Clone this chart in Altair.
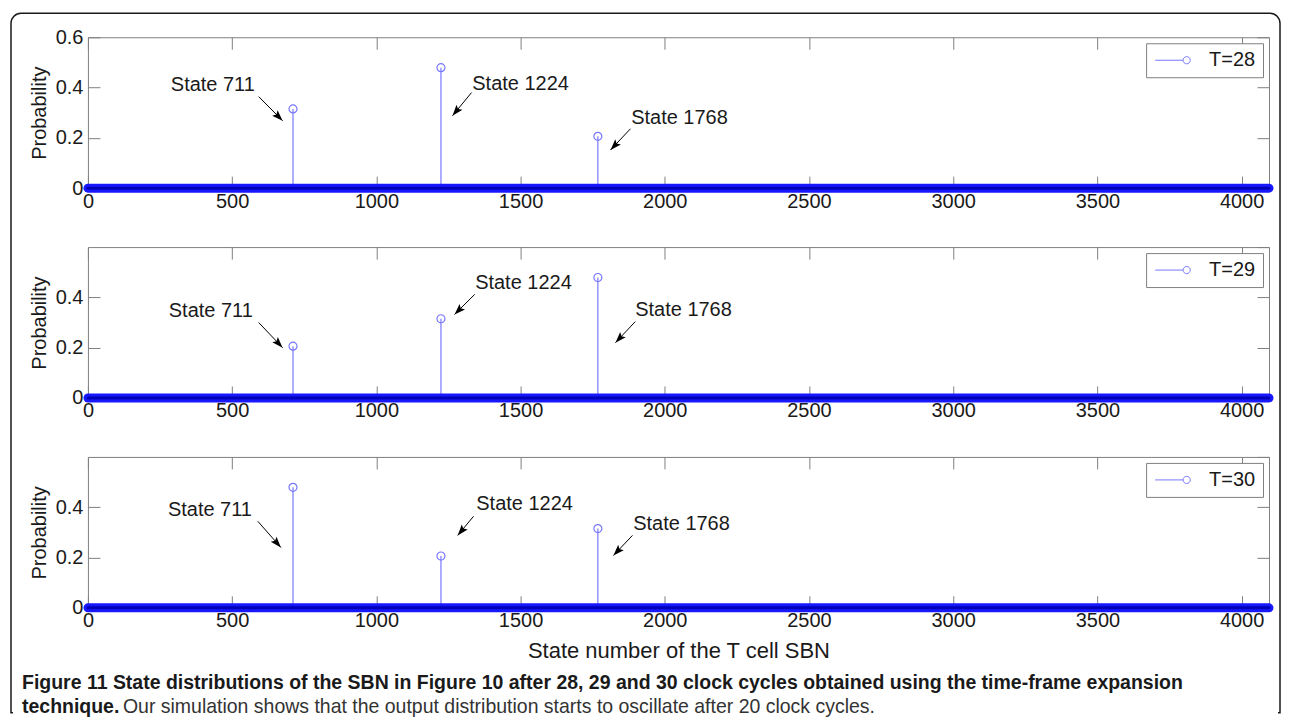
import math
import altair as alt
import pandas as pd

# ---------------- data ----------------
states = [711, 1224, 1768]
state_labels = ["State 711", "State 1224", "State 1768"]
n_states = 4096
series_names = ["T=28", "T=29", "T=30"]
x_ticks = [0, 500, 1000, 1500, 2000, 2500, 3000, 3500, 4000]
y_ticks_first = [0, 0.2, 0.4, 0.6]
y_ticks_other = [0, 0.2, 0.4]

prob_t28 = [0.315, 0.479, 0.206]
prob_t29 = [0.206, 0.315, 0.479]
prob_t30 = [0.479, 0.206, 0.315]

# annotation label centres and arrows (state number, probability units)
text_x_t28 = [433, 1500, 2051]
text_y_t28 = [0.412, 0.416, 0.280]
tail_x_t28 = [592, 1330, 1881]
tail_y_t28 = [0.364, 0.380, 0.236]
tip_x_t28 = [675, 1264, 1812]
tip_y_t28 = [0.268, 0.288, 0.152]

text_x_t29 = [426, 1510, 2065]
text_y_t29 = [0.344, 0.456, 0.348]
tail_x_t29 = [592, 1341, 1898]
tail_y_t29 = [0.300, 0.412, 0.304]
tip_x_t29 = [675, 1271, 1829]
tip_y_t29 = [0.200, 0.332, 0.220]

text_x_t30 = [423, 1514, 2058]
text_y_t30 = [0.388, 0.412, 0.332]
tail_x_t30 = [589, 1337, 1888]
tail_y_t30 = [0.344, 0.364, 0.288]
tip_x_t30 = [669, 1282, 1822]
tip_y_t30 = [0.240, 0.288, 0.208]

x_title = "State number of the T cell SBN"
y_title = "Probability"
caption_line1 = ("Figure 11 State distributions of the SBN in Figure 10 after 28, 29 and 30 "
                 "clock cycles obtained using the time-frame expansion")
caption_line2_bold = "technique."
caption_line2_rest = ("Our simulation shows that the output distribution starts to oscillate "
                      "after 20 clock cycles.")

# ---------------- style ----------------
W, H = 1182, 151
FONT = "Liberation Sans"
CAP_FONT = "Liberation Sans"
TXT = "#1a1a1a"
FRAME = "#808080"
STEM = "#7878ff"
HEAD_PATH = "M0,0L-0.7,2L0,1.6L0.7,2Z"
LEG_PATH = "M-1,0L2.5,0M3.4,0A0.45,0.45,0,1,1,2.5,0A0.45,0.45,0,1,1,3.4,0"

X_DOMAIN = [0, n_states - 1]
Y_DOMAIN = [0, 0.6]
PX_X = W / (X_DOMAIN[1] - X_DOMAIN[0])
PX_Y = H / (Y_DOMAIN[1] - Y_DOMAIN[0])

xs = alt.Scale(domain=X_DOMAIN, nice=False, zero=False)
ys = alt.Scale(domain=Y_DOMAIN, nice=False)

AX = dict(domain=False, grid=False, tickColor=FRAME, tickSize=12, offset=-12,
          tickWidth=1, labelFlush=False, labelOverlap=False)


def arrow_angle(x0, y0, x1, y1):
    sx = (x1 - x0) * PX_X
    sy = (y0 - y1) * PX_Y
    return math.degrees(math.atan2(sx, -sy)) % 360


def panel(name, probs, tx, ty, ax, ay, bx, by, yticks, show_xtitle, extra=()):
    df = pd.DataFrame({"state": states, "prob": probs, "series": [name] * len(states)})
    ann = pd.DataFrame({
        "label": state_labels, "tx": tx, "ty": ty, "ax": ax, "ay": ay, "bx": bx, "by": by,
        "angle": [arrow_angle(a, b, c, d) for a, b, c, d in zip(ax, ay, bx, by)],
    })
    band_df = pd.DataFrame({"first": [0], "last": [n_states - 1], "p": [0.0]})

    x_bottom = alt.Axis(orient="bottom", values=x_ticks, format="d", labelFont=FONT,
                        labelFontSize=20, labelColor=TXT, labelPadding=3,
                        title=x_title if show_xtitle else None,
                        titleFont=FONT, titleFontSize=22, titleFontWeight="normal",
                        titleColor=TXT, titlePadding=10, **AX)
    y_left = alt.Axis(orient="left", values=yticks, format=".1~f", labelFont=FONT,
                      labelFontSize=20, labelColor=TXT, labelPadding=5,
                      title=y_title, titleFont=FONT, titleFontSize=20,
                      titleFontWeight="normal", titleColor=TXT, titlePadding=6, **AX)
    x_top = alt.Axis(orient="top", values=x_ticks, labels=False, title=None, **AX)
    y_right = alt.Axis(orient="right", values=y_ticks_first, labels=False, title=None, **AX)

    stems = alt.Chart(df).mark_rule(color=STEM, strokeWidth=1.2).encode(
        x=alt.X("state:Q", scale=xs, axis=x_bottom),
        y=alt.Y("prob:Q", scale=ys, axis=y_left),
        y2=alt.datum(0),
    )
    band_outer = alt.Chart(band_df).mark_rule(color="#1818ff", strokeWidth=9,
                                              strokeCap="round").encode(
        x=alt.X("first:Q", scale=xs, axis=x_top), x2="last:Q",
        y=alt.Y("p:Q", scale=ys, axis=y_right),
    )
    band_inner = alt.Chart(band_df).mark_rule(color="#0000b8", strokeWidth=3,
                                              strokeCap="round").encode(
        x=alt.X("first:Q", scale=xs, axis=None), x2="last:Q",
        y=alt.Y("p:Q", scale=ys, axis=None),
    )
    points = alt.Chart(df).mark_point(shape="circle", filled=False, size=64,
                                      strokeWidth=1.2, opacity=1).encode(
        x=alt.X("state:Q", scale=xs, axis=None),
        y=alt.Y("prob:Q", scale=ys, axis=None),
        color=alt.Color("series:N", scale=alt.Scale(range=[STEM]),
                        legend=alt.Legend(title=None, orient="top-right", offset=6,
                                          strokeColor=FRAME, fillColor="white",
                                          padding=7, cornerRadius=0,
                                          labelFont=FONT, labelFontSize=20,
                                          labelColor=TXT, labelOffset=36,
                                          symbolType=LEG_PATH, symbolSize=256,
                                          symbolStrokeWidth=1,
                                          symbolFillColor="transparent",
                                          symbolStrokeColor=STEM)),
    )
    lines = alt.Chart(ann).mark_rule(color="black", strokeWidth=1).encode(
        x=alt.X("ax:Q", scale=xs, axis=None), y=alt.Y("ay:Q", scale=ys, axis=None),
        x2="bx:Q", y2="by:Q",
    )
    heads = alt.Chart(ann).mark_point(shape=HEAD_PATH, filled=True, color="black",
                                      size=121, opacity=1, strokeWidth=0).encode(
        x=alt.X("bx:Q", scale=xs, axis=None), y=alt.Y("by:Q", scale=ys, axis=None),
        angle=alt.Angle("angle:Q", scale=None),
    )
    texts = alt.Chart(ann).mark_text(font=FONT, fontSize=20, color=TXT).encode(
        x=alt.X("tx:Q", scale=xs, axis=None), y=alt.Y("ty:Q", scale=ys, axis=None),
        text="label:N",
    )
    layers = [stems, band_outer, band_inner, points, lines, heads, texts] + list(extra)
    return alt.layer(*layers).properties(width=W, height=H).resolve_axis(
        x="independent", y="independent")


one = pd.DataFrame({"k": [0]})
frame = alt.Chart(one).mark_rect(fill="transparent", stroke="#1a1a1a", strokeWidth=1.5,
                                 cornerRadiusTopLeft=10, cornerRadiusTopRight=10).encode(
    x=alt.value(-77), x2=alt.value(1193), y=alt.value(-24), y2=alt.value(676))
frame_cover = alt.Chart(one).mark_rule(color="white", strokeWidth=4).encode(
    x=alt.value(-75), x2=alt.value(1191), y=alt.value(676), y2=alt.value(676))

cap_df = pd.DataFrame({"l1": [caption_line1], "l2a": [caption_line2_bold],
                       "l2b": [caption_line2_rest]})
cap1 = alt.Chart(cap_df).mark_text(font=CAP_FONT, fontSize=19.5, fontWeight="bold",
                                   color=TXT, align="left", baseline="middle").encode(
    x=alt.value(-66), y=alt.value(226), text="l1:N")
cap2a = alt.Chart(cap_df).mark_text(font=CAP_FONT, fontSize=19.5, fontWeight="bold",
                                    color=TXT, align="left", baseline="middle").encode(
    x=alt.value(-66), y=alt.value(250), text="l2a:N")
cap2b = alt.Chart(cap_df).mark_text(font=CAP_FONT, fontSize=19.5, color="#333333",
                                    align="left", baseline="middle").encode(
    x=alt.value(35), y=alt.value(250), text="l2b:N")

p1 = panel(series_names[0], prob_t28, text_x_t28, text_y_t28, tail_x_t28, tail_y_t28,
           tip_x_t28, tip_y_t28, y_ticks_first, False, extra=[frame, frame_cover])
p2 = panel(series_names[1], prob_t29, text_x_t29, text_y_t29, tail_x_t29, tail_y_t29,
           tip_x_t29, tip_y_t29, y_ticks_other, False)
p3 = panel(series_names[2], prob_t30, text_x_t30, text_y_t30, tail_x_t30, tail_y_t30,
           tip_x_t30, tip_y_t30, y_ticks_other, True, extra=[cap1, cap2a, cap2b])

chart = alt.vconcat(p1, p2, p3, spacing=59, bounds="flush").resolve_scale(
    color="independent").properties(
    padding={"left": 1, "top": 3, "right": 0, "bottom": 2},
    background="white",
).configure_view(stroke=FRAME, strokeWidth=1)

chart.save("out.html", embed_options={"renderer": "svg", "actions": False})
